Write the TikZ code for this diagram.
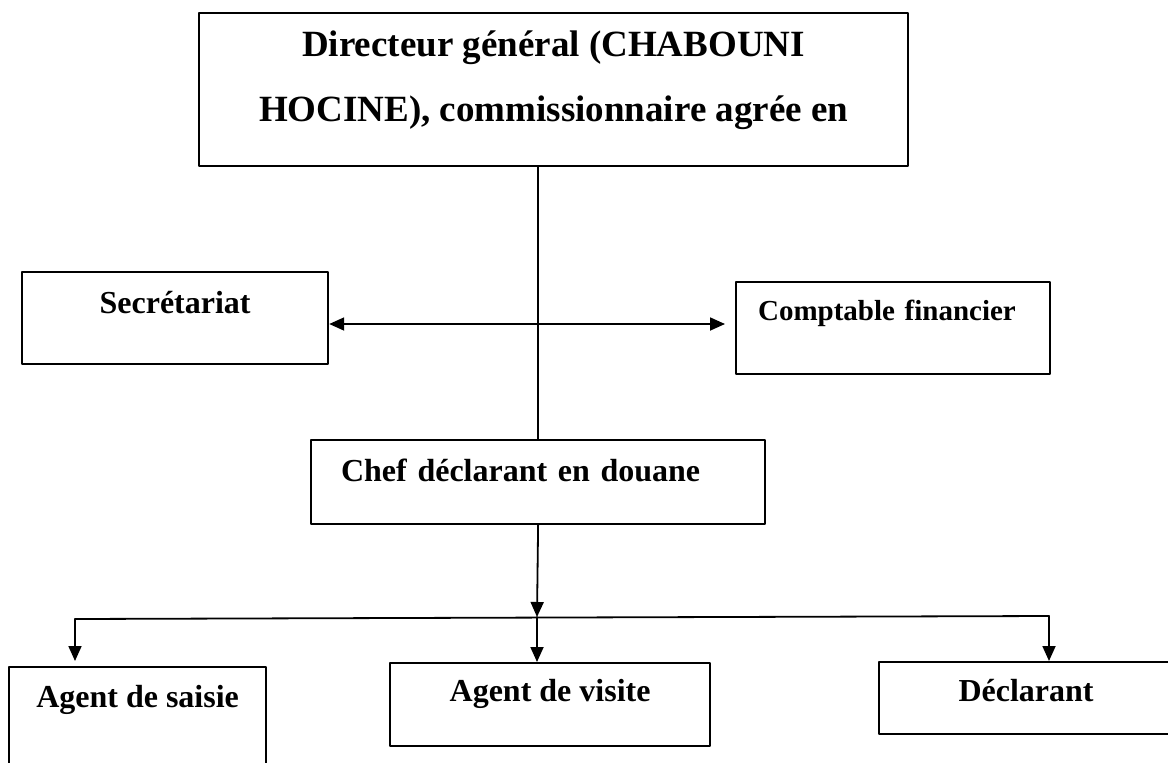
\documentclass[tikz,border=0pt]{standalone}
\usepackage{fontspec}
\setmainfont{Liberation Serif}
\usetikzlibrary{arrows.meta}
\tikzset{
	boite/.style={draw, line width=2.2pt, inner sep=0pt, anchor=north west, font=\bfseries\fontsize{32}{38}\selectfont},
	trait/.style={line width=1.8pt}
}
\begin{document}
\begin{tikzpicture}[x=1pt, y=-1pt, line join=round, line cap=round, >={Triangle[length=15pt,width=13pt]}]
		\useasboundingbox (0,0) rectangle (1168,763);
		\clip (0,0) rectangle (1168,763);
		\node[boite, minimum width=709pt, text height=43pt, text depth=110pt] (dg) at (198,12) {\parbox[t]{709pt}{\centering\fontsize{37}{65}\selectfont Directeur général (CHABOUNI\\HOCINE), commissionnaire agrée en}};
		\node[boite, minimum width=306pt, text height=41pt, text depth=51pt] (sec) at (21,271) {Secrétariat};
		\node[boite, text width=270pt, inner xsep=22pt, align=left, text height=38pt, text depth=54pt, font=\bfseries\fontsize{29}{35}\selectfont] (comp) at (735,281) {Comptable financier};
		\node[boite, text width=394pt, inner xsep=30pt, align=left, text height=41pt, text depth=43pt] (chef) at (310,439) {Chef déclarant en douane};
		\node[boite, minimum width=257pt, text height=40pt, text depth=94pt] (saisie) at (8,666) {Agent de saisie};
		\node[boite, minimum width=320pt, text height=38pt, text depth=45pt] (visite) at (389,662) {Agent de visite};
		\node[boite, minimum width=294pt, text height=39pt, text depth=33pt] (decl) at (878,661) {Déclarant};
		\coordinate (cf) at (725,324);
		\coordinate (bus) at (537,617);
		\coordinate (busg) at (75,619);
		\coordinate (busd) at (1049,616);
		\draw[trait] (dg.south -| chef.north) -- (chef.north);
		\draw[trait, <->] (sec.east |- cf) -- (cf);
		\draw[trait, ->] (chef.south) -- (bus);
		\draw[trait] (busg) -- (busd);
		\draw[trait, ->, shorten >=5pt] (busg) -- (saisie.north -| busg);
		\draw[trait, ->] (bus) -- (visite.north -| bus);
		\draw[trait, ->] (busd) -- (decl.north -| busd);
\end{tikzpicture}
\end{document}
